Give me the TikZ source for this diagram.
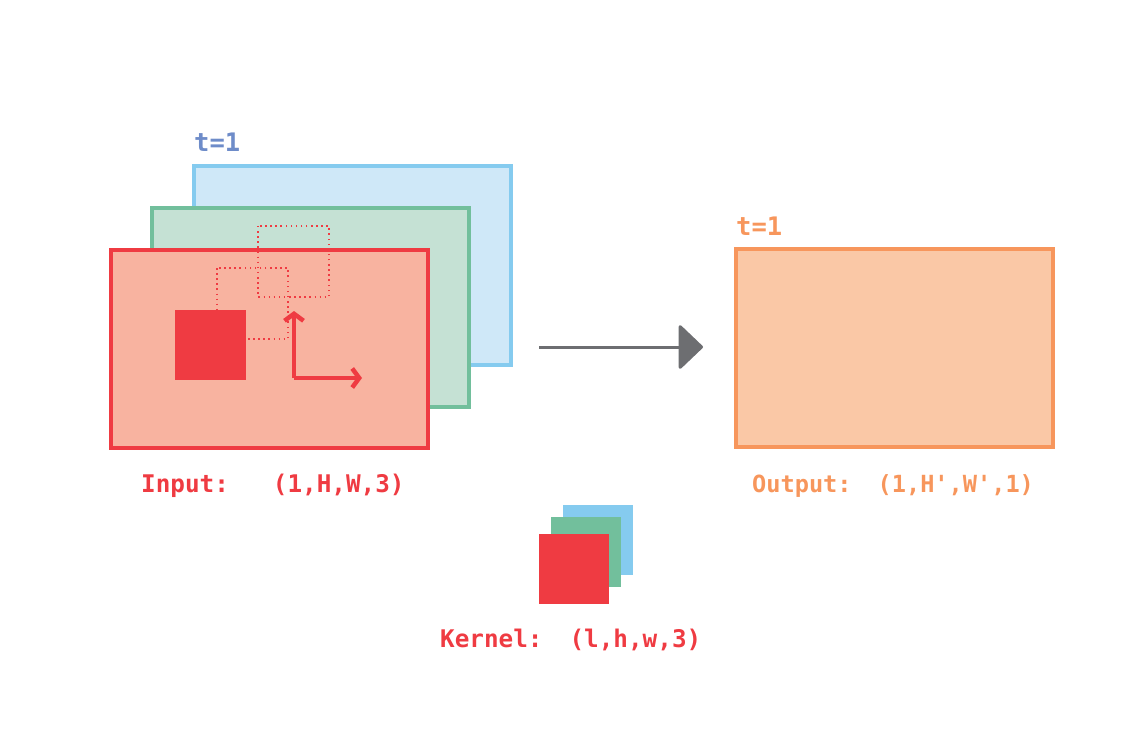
\documentclass[tikz,border=0pt]{standalone}
\usepackage{fontspec}
\setmainfont{DejaVu Sans Mono}[Ligatures=TeXOff]
\usetikzlibrary{arrows.meta}
\definecolor{bluestroke}{HTML}{85CBEF}
\definecolor{bluefill}{HTML}{CFE8F8}
\definecolor{greenstroke}{HTML}{72BF9C}
\definecolor{greenfill}{HTML}{C5E1D4}
\definecolor{redstroke}{HTML}{EF3B42}
\definecolor{redfill}{HTML}{F8B3A0}
\definecolor{orangestroke}{HTML}{F7965C}
\definecolor{orangefill}{HTML}{FAC8A6}
\definecolor{tblue}{HTML}{6E8CC9}
\definecolor{arrowgray}{HTML}{6D6E71}
\tikzset{
  frame/.style={line width=3.5pt},
  lab/.style={font=\fontsize{24.3}{29}\selectfont\bfseries, inner sep=0pt, anchor=west},
  tlab/.style={font=\fontsize{25.5}{30}\selectfont\bfseries, inner sep=0pt, anchor=west},
  dotbox/.style={draw=redstroke, line width=1.3pt, dash pattern=on 1.5pt off 3.6pt},
  redarrow/.style={draw=redstroke, line width=4.5pt, -{Straight Barb[length=7pt,width=19pt,line width=4.5pt]}},
}
\begin{document}
\begin{tikzpicture}[x=1pt,y=-1pt]
\useasboundingbox (0,0) rectangle (1126,751);
% input stack
\draw[frame, draw=bluestroke, fill=bluefill] (194,166) rectangle (511,365);
\draw[frame, draw=greenstroke, fill=greenfill] (152,208) rectangle (469,407);
\draw[frame, draw=redstroke, fill=redfill] (111,250) rectangle (428,448);
\node[tlab, text=tblue] (t1) at (194,142) {t=1};
% dotted boxes
\draw[dotbox] (258,226) rectangle (329,297);
\draw[dotbox] (217,268) rectangle (288,339);
% kernel position
\fill[redstroke] (175,310) rectangle (246,380);
% direction arrows
\coordinate (corner) at (294,378);
\coordinate (up) at (294,311);
\coordinate (right) at (362,378);
\draw[redarrow] (corner) -- (up);
\draw[redarrow] (corner) -- (right);
\node[lab, text=redstroke] (inlab) at (141,486) {Input:\hspace{44pt}(1,H,W,3)};
% main arrow
\coordinate (a1) at (539,347);
\coordinate (a2) at (703,347);
\draw[arrowgray, line width=3pt, -{Triangle[length=25pt,width=47pt,round]}] (a1) -- (a2);
% output
\draw[frame, draw=orangestroke, fill=orangefill] (736,249) rectangle (1053,447);
\node[tlab, text=orangestroke] (t2) at (736,226) {t=1};
\node[lab, text=orangestroke, font=\fontsize{23.6}{28}\selectfont\bfseries] (outlab) at (752,486) {Output:\hspace{26pt}(1,H',W',1)};
% kernel
\fill[bluestroke] (563,505) rectangle (633,575);
\fill[greenstroke] (551,517) rectangle (621,587);
\fill[redstroke] (539,534) rectangle (609,604);
\node[lab, text=redstroke] (klab) at (440,640) {Kernel:\hspace{27pt}(l,h,w,3)};
\end{tikzpicture}
\end{document}
